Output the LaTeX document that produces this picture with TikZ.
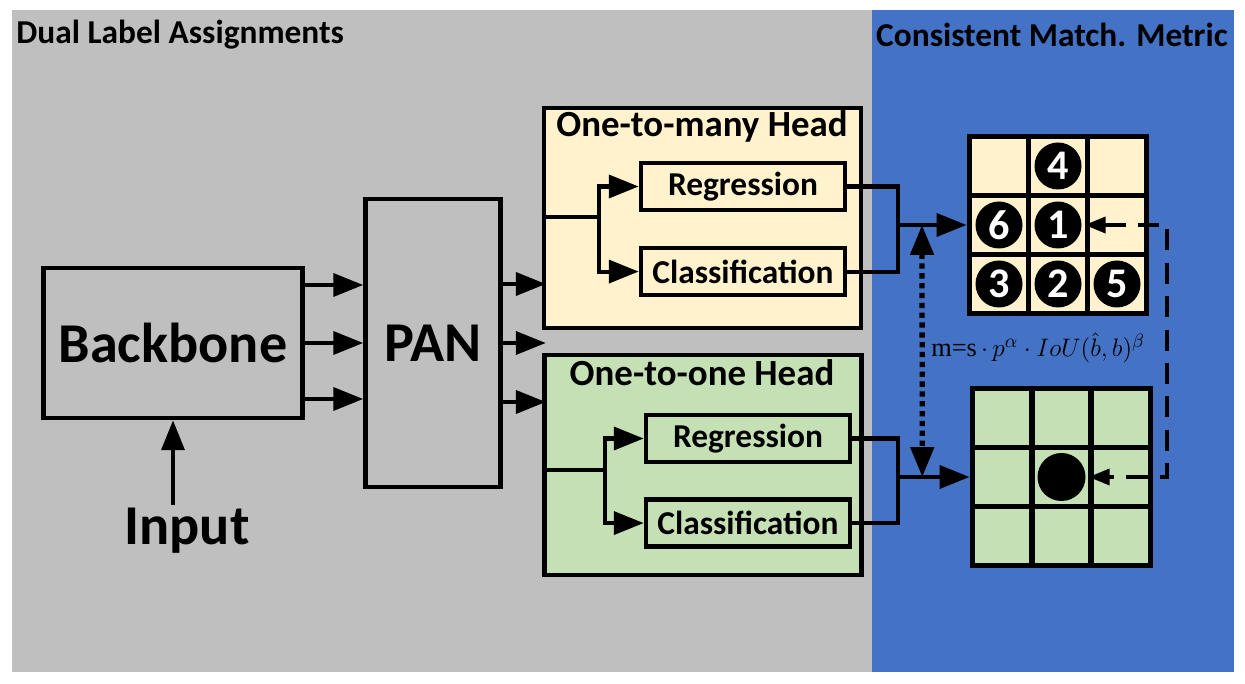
\documentclass[tikz,border=0pt]{standalone}
\usepackage{fontspec}
\setmainfont{Carlito}
\newfontfamily\tms{Liberation Serif}
\usetikzlibrary{arrows.meta,positioning,calc}
\definecolor{dlacol}{RGB}{191,191,191}
\definecolor{cmmcol}{RGB}{68,114,196}
\definecolor{manycol}{RGB}{255,242,204}
\definecolor{onecol}{RGB}{197,224,180}

\begin{document}
\begin{tikzpicture}[
   x=0.2mm, y=-0.2mm, >={Triangle[length=17pt,width=13pt]},
   box/.style={draw, line width=2.6pt, inner sep=0pt,
               font=\bfseries\fontsize{32}{36}\selectfont},
   headbox/.style={draw, line width=2.6pt, minimum width=63.4mm, minimum height=44mm},
   sub/.style={draw, line width=2.6pt, minimum width=40.8mm, minimum height=9.4mm,
               inner sep=0pt, font=\bfseries\fontsize{19}{22}\selectfont},
   ttl/.style={font=\bfseries\fontsize{21}{24}\selectfont, inner sep=0pt},
   sec/.style={font=\bfseries\fontsize{19}{22}\selectfont, inner sep=0pt},
   arr/.style={->, line width=2.3pt},
   ln/.style={line width=2.3pt},
   cell/.style={draw, line width=3.4pt, minimum size=11.8mm, inner sep=0pt},
   disc/.style={circle, fill=black, minimum size=9.4mm, inner sep=0pt, text=white,
                font=\bfseries\fontsize{24}{26}\selectfont},
   fbk/.style={<->, >={Triangle[length=12pt,width=9pt]}, line width=2.3pt,
               dash pattern=on 12pt off 7pt},
   mtc/.style={<->, line width=3pt, dash pattern=on 3pt off 2.6pt},
]
\useasboundingbox (0,0) rectangle (1245,684);
% panels
\fill[dlacol] (12,10) rectangle (872,672);
\fill[cmmcol] (872,10) rectangle (1234,672);
\node[sec, anchor=west] (dla) at (16,35) {Dual Label Assignments};
\node[sec, anchor=east] (cmm) at (1228,35) {Consistent Match. Metric};
% backbone and neck
\node[box, minimum width=51.8mm, minimum height=30mm] (bb) at (173,343) {Backbone};
\node[box, minimum width=27mm, minimum height=57.6mm] (pan) at (433,343) {PAN};
\node[font=\bfseries\fontsize{32}{36}\selectfont, inner sep=1pt, anchor=base] (inp) at (187,545) {Input};
\draw[arr] ([yshift=1pt]inp.north -| bb.south) -- (bb.south);
\foreach \dy in {11.6,0,-11.2}
  \draw[arr] ([yshift=\dy mm]bb.east) -- ([yshift=\dy mm]pan.west);
\foreach \dy in {11.8,0,-11.8}
  \draw[arr] ([yshift=\dy mm]pan.east) -- ++(43,0);
% one-to-many head
\node[headbox, fill=manycol] (manyh) at (702.5,218) {};
\node[ttl, anchor=base] (manyt) at (702,137) {One-to-many Head};
\node[sub, fill=manycol] (reg1) at (743,186.5) {Regression};
\node[sub, fill=manycol, below=6.7mm of reg1] (cls1) {Classification};
% one-to-one head
\node[headbox, fill=onecol] (oneh) at (703,465) {};
\node[ttl, anchor=base] (onet) at (702,386) {One-to-one Head};
\node[sub, fill=onecol] (reg2) at (748,438.5) {Regression};
\node[sub, fill=onecol, below=6.6mm of reg2] (cls2) {Classification};
% grids
\foreach \r in {0,1,2}
  \foreach \c in {0,1,2} {
    \node[cell, fill=manycol] (a\r\c) at (999+59*\c, 166+59*\r) {};
    \node[cell, fill=onecol] (b\r\c) at (1002+59.5*\c, 418+59*\r) {};
  }
\foreach \p/\n in {01/4,10/6,11/1,20/3,21/2,22/5}
  \node[disc] (n\n) at (a\p) {\n};
\node[disc, minimum size=9.6mm] (nb) at (b11) {};
% branches
\coordinate (br1) at (599,217);
\draw[ln] (br1 -| manyh.west) -- (br1);
\draw[arr] (br1) |- (reg1.west);
\draw[arr] (br1) |- (cls1.west);
\coordinate (j1) at (898,225);
\draw[ln] (reg1.east) -| (j1) |- (cls1.east);
\draw[arr] (j1) -- (a10.west);
\coordinate (br2) at (605,470);
\draw[ln] (br2 -| oneh.west) -- (br2);
\draw[arr] (br2) |- (reg2.west);
\draw[arr] (br2) |- (cls2.west);
\coordinate (j2) at (898,477);
\draw[ln] (reg2.east) -| (j2) |- (cls2.east);
\draw[arr] (j2) -- (b10.west);
% metric
\coordinate (m1) at ($(j1)!0.35!(a10.west)$);
\coordinate (m2) at ($(j2)!0.34!(b10.west)$);
\draw[mtc] (m1) -- (m2);
\node[font=\tms\fontsize{15}{17}\selectfont, inner sep=0pt, anchor=base west] (mtr) at (931,357)
  {m=s$\,\cdot\,p^{\alpha}\cdot IoU(\hat{b},b)^{\beta}$};
\coordinate (fb1) at (1167,225);
\coordinate (fb2) at (1167,477);
\draw[fbk] (a12.west) -- (fb1) -- (fb2) -- (b12.west);
\end{tikzpicture}
\end{document}
